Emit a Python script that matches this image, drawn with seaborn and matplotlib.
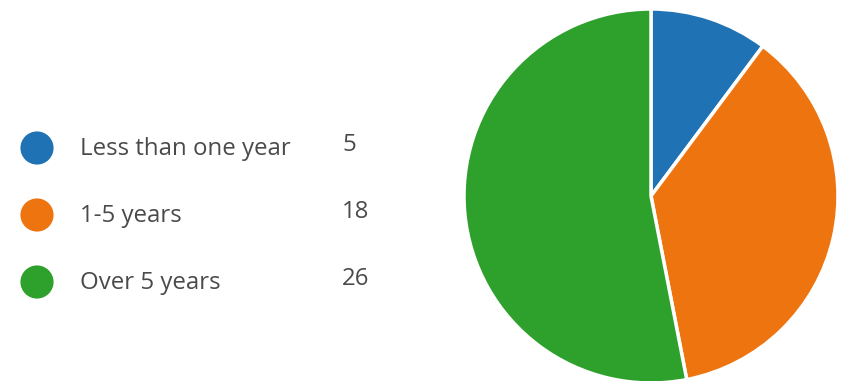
import matplotlib
matplotlib.use("Agg")
import matplotlib.pyplot as plt
import seaborn as sns
import pandas as pd

categories = ["Less than one year", "1-5 years", "Over 5 years"]
counts = [5, 18, 26]
colors = ["#1f72b3", "#ee7410", "#2ea12d"]

sns.set_theme(style="white")
plt.rcParams["font.family"] = ["Open Sans", "DejaVu Sans"]

W, H = 841, 381
fig = plt.figure(figsize=(W / 100, H / 100), dpi=100)
fig.patch.set_facecolor("white")

# Legend panel
lax = fig.add_axes([0, 0, 400 / W, 1])
lax.set_xlim(0, 400)
lax.set_ylim(H, 0)
lax.axis("off")
df = pd.DataFrame({
    "cat": categories,
    "count": counts,
    "x": [37] * len(categories),
    "y": [148 + 67 * i for i in range(len(categories))],
})
sns.scatterplot(data=df, x="x", y="y", hue="cat", palette=colors, s=570,
                edgecolor="none", legend=False, ax=lax)
for _, r in df.iterrows():
    lax.text(80, r["y"] + 1, r["cat"], va="center", ha="left", fontsize=17.3,
             color="#4a4a4a")
    lax.text(342, r["y"] - 3, str(r["count"]), va="center", ha="left",
             fontsize=17.3, color="#4a4a4a")

# Pie
cx, cy, rad = 651, 196, 187
pax = fig.add_axes([(cx - rad) / W, (H - cy - rad) / H, 2 * rad / W, 2 * rad / H])
pax.pie(counts, colors=colors, startangle=90, counterclock=False,
        wedgeprops=dict(edgecolor="white", linewidth=2.5))
pax.set_xlim(-1, 1)
pax.set_ylim(-1, 1)
pax.set_aspect("equal")
pax.axis("off")

fig.savefig("out.png", dpi=100, facecolor="white")
